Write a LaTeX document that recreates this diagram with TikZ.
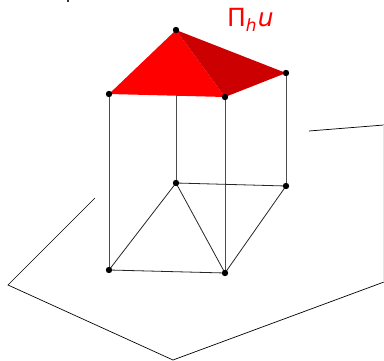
\documentclass[tikz,border=0pt]{standalone}
\usepackage{fontspec}
\setmainfont{DejaVu Sans}
\tikzset{
  vertex/.style={circle,fill=black,inner sep=0pt,minimum size=6.4pt},
  edge/.style={draw=black!85,line width=0.8pt},
  post/.style={draw=black!70,line width=0.9pt},
  plane/.style={draw=black,line width=0.7pt},
  lowface/.style={fill=red},
  highface/.style={fill=red!80!black}
}
\begin{document}
\begin{tikzpicture}[x=1pt,y=-1pt]
\useasboundingbox (0,0) rectangle (384,361);
% plane corners
\coordinate (p1) at (95,198);
\coordinate (p2) at (8,285);
\coordinate (p3) at (173,360);
\coordinate (p4) at (384,282);
\coordinate (p5) at (384,125);
\coordinate (p6) at (309,131);
% vertices
\coordinate (A) at (176,30);
\coordinate (B) at (286,73);
\coordinate (C) at (225,97);
\coordinate (D) at (109,94);
\coordinate (a) at (176,183);
\coordinate (b) at (286,186);
\coordinate (c) at (225,273);
\coordinate (d) at (109,270);
\draw[plane] (p1) -- (p2) -- (p3) -- (p4);
\draw[plane] (p6) -- (p5);
\draw[black!10,line width=0.7pt] (383.6,125) -- (383.6,282);
\draw[post] (A) -- (a);
\draw[post] (B) -- (b);
\draw[post] (C) -- (c);
\draw[post] (D) -- (d);
\fill[lowface] (A) -- (D) -- (C) -- cycle;
\fill[highface] (A) -- (C) -- (B) -- cycle;
\draw[edge] (a) -- (b) (a) -- (d) (a) -- (c) (b) -- (c) (d) -- (c);
\foreach \v in {A,B,C,D,a,b,c,d} \node[vertex] at (\v) {};
\node[text=red,font=\fontsize{25}{25}\selectfont,anchor=base west,inner sep=0pt] (lab) at (227,27) {Π\raisebox{-5pt}{\fontsize{17}{17}\selectfont\itshape h}\kern1pt\itshape u};
% clipped remains of a line of text above the picture
\begin{scope}
\clip (0,0) rectangle (384,361);
\fill[black!80] (67,0) rectangle (69,1.6);
\draw[black!80,line width=1pt] (223,-1) arc[start angle=180,end angle=360,x radius=4,y radius=2];
\end{scope}
\end{tikzpicture}
\end{document}
